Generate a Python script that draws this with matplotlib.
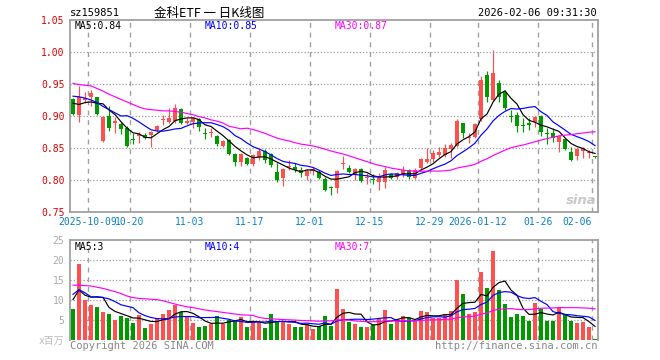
import numpy as np
import pandas as pd
import matplotlib
matplotlib.use('Agg')
import matplotlib.pyplot as plt

plt.rcParams['font.family'] = ['DejaVu Sans Mono', 'Noto Sans CJK SC']

# ---------------- data ----------------
holidays = pd.to_datetime(['2025-10-01', '2025-10-02', '2025-10-03', '2025-10-06',
                           '2025-10-07', '2025-10-08', '2026-01-01', '2026-01-02'])
dates = [d for d in pd.bdate_range('2025-09-26', '2026-02-06') if d not in holidays]
date_keys = [d.strftime('%Y-%m-%d') for d in dates]

open_ = [0.927, 0.902, 0.925, 0.929, 0.929, 0.8615, 0.900, 0.8885, 0.8875, 0.8818,
         0.8635, 0.8688, 0.8703, 0.8703, 0.8781, 0.8943, 0.8906, 0.8927, 0.9104, 0.8885,
         0.8911, 0.8948, 0.8724, 0.8729, 0.8682, 0.8536, 0.8625, 0.8401, 0.8286, 0.8349,
         0.825, 0.8365, 0.8458, 0.8406, 0.812, 0.8036, 0.8208, 0.8208, 0.8156, 0.8063,
         0.8141, 0.813, 0.8016, 0.7885, 0.788, 0.8245, 0.8193, 0.8078, 0.8167, 0.8036,
         0.8005, 0.7974, 0.7974, 0.8094, 0.8052, 0.8078, 0.8156, 0.8026, 0.8182, 0.8286,
         0.8323, 0.8391, 0.8391, 0.848, 0.8531, 0.8885, 0.8651, 0.8667, 0.8948, 0.9641,
         0.925, 0.951, 0.938, 0.8995, 0.9016, 0.8849, 0.8885, 0.8901, 0.900, 0.8734,
         0.8729, 0.8599, 0.8635, 0.8443, 0.8375, 0.8458, 0.8422, 0.838]
high = [0.928, 0.947, 0.938, 0.941, 0.930, 0.900, 0.915, 0.899, 0.891, 0.884,
        0.874, 0.8755, 0.8729, 0.8771, 0.8859, 0.9016, 0.912, 0.9188, 0.912, 0.8964,
        0.899, 0.8964, 0.8807, 0.8807, 0.8703, 0.8625, 0.8635, 0.8417, 0.8417, 0.8365,
        0.8406, 0.8479, 0.8479, 0.8427, 0.826, 0.8182, 0.8313, 0.826, 0.8198, 0.8167,
        0.8208, 0.8156, 0.8042, 0.7906, 0.8156, 0.8375, 0.8234, 0.8182, 0.8182, 0.8104,
        0.8094, 0.8104, 0.8198, 0.8115, 0.813, 0.8219, 0.8167, 0.8182, 0.8339, 0.8495,
        0.8469, 0.8521, 0.857, 0.8583, 0.8948, 0.8896, 0.8729, 0.8885, 0.9625, 0.9708,
        1.0031, 0.9563, 0.9406, 0.9094, 0.9068, 0.8964, 0.8964, 0.900, 0.9016, 0.8807,
        0.8807, 0.8703, 0.8651, 0.8521, 0.8495, 0.8521, 0.8469, 0.838]
low = [0.902, 0.891, 0.920, 0.915, 0.902, 0.860, 0.877, 0.874, 0.872, 0.852,
       0.857, 0.8583, 0.8635, 0.8521, 0.8755, 0.8859, 0.8885, 0.8896, 0.887, 0.887,
       0.8807, 0.8771, 0.8635, 0.8667, 0.8531, 0.851, 0.8391, 0.8219, 0.8219, 0.8234,
       0.8219, 0.8313, 0.826, 0.8208, 0.7974, 0.7906, 0.8156, 0.813, 0.8042, 0.800,
       0.8078, 0.801, 0.7833, 0.7766, 0.7802, 0.8167, 0.8104, 0.800, 0.7974, 0.7938,
       0.7938, 0.7844, 0.787, 0.801, 0.801, 0.8042, 0.801, 0.801, 0.8156, 0.826,
       0.8286, 0.8365, 0.836, 0.834, 0.8521, 0.8651, 0.8583, 0.8651, 0.8927, 0.9224,
       0.924, 0.9224, 0.9094, 0.8911, 0.8745, 0.8755, 0.8781, 0.8823, 0.8688, 0.8557,
       0.8599, 0.8443, 0.8469, 0.8302, 0.8313, 0.834, 0.834, 0.834]
close = [0.9031, 0.9292, 0.9286, 0.9354, 0.9031, 0.899, 0.881, 0.8927, 0.8797, 0.8531,
         0.8625, 0.8724, 0.8661, 0.8755, 0.8844, 0.8953, 0.8964, 0.912, 0.8885, 0.8927,
         0.8964, 0.8823, 0.8714, 0.8755, 0.8563, 0.8615, 0.8406, 0.8286, 0.8406, 0.825,
         0.8391, 0.8458, 0.8313, 0.8234, 0.800, 0.8167, 0.8219, 0.8156, 0.8104, 0.8141,
         0.8167, 0.8036, 0.7844, 0.788, 0.8141, 0.8255, 0.813, 0.8167, 0.799, 0.8047,
         0.7995, 0.8042, 0.8156, 0.8026, 0.8104, 0.8156, 0.8042, 0.8156, 0.8323, 0.8328,
         0.8417, 0.8432, 0.8495, 0.8547, 0.8927, 0.874, 0.8677, 0.887, 0.9563, 0.9302,
         0.9667, 0.9302, 0.913, 0.8984, 0.8849, 0.8839, 0.8859, 0.898, 0.8755, 0.8724,
         0.8651, 0.8688, 0.848, 0.8313, 0.8484, 0.8495, 0.8432, 0.8354]
volume = [7.8, 19.1, 10.1, 8.8, 8.25, 7.1, 6.5, 5.1, 6.1, 5.6,
          4.25, 6.25, 3.0, 4.1, 5.5, 6.5, 7.5, 8.8, 7.0, 5.75,
          4.25, 3.25, 3.5, 4.1, 6.0, 4.1, 5.0, 4.75, 5.75, 3.25,
          4.5, 4.5, 3.0, 6.5, 4.5, 4.75, 4.0, 3.25, 3.25, 4.0,
          2.75, 3.5, 6.0, 3.4, 12.8, 7.75, 4.5, 4.0, 3.25, 3.25,
          3.75, 5.25, 7.5, 4.0, 5.0, 6.0, 5.5, 5.0, 7.25, 7.0,
          5.5, 5.5, 6.5, 7.25, 15.0, 11.5, 6.5, 7.0, 17.0, 13.0,
          22.25, 12.5, 9.0, 5.75, 6.5, 6.0, 4.75, 9.25, 7.75, 4.75,
          4.75, 8.25, 6.25, 4.75, 4.25, 4.5, 3.25, 0.25]

# moving-average values before enough in-window history exists
price_ma5_lead = [0.920, 0.918, 0.921, 0.922]
price_ma10_lead = [0.931, 0.930, 0.928, 0.925, 0.921, 0.915, 0.910, 0.905, 0.900]
price_ma30_lead = [0.951, 0.949, 0.948, 0.947, 0.943, 0.939, 0.934, 0.930, 0.926, 0.922,
                   0.918, 0.914, 0.911, 0.910, 0.909, 0.908, 0.908, 0.907, 0.906, 0.904,
                   0.902, 0.899, 0.897, 0.894, 0.892, 0.889, 0.884, 0.882, 0.880]
vol_ma5_lead = [10.1, 12.5, 11.2, 10.7]
vol_ma10_lead = [11.4, 12.6, 11.8, 10.8, 10.7, 10.6, 10.3, 9.6, 8.8]
vol_ma30_lead = [13.7, 13.7, 13.6, 13.5, 13.2, 12.9, 12.5, 12.1, 11.6, 11.0,
                 10.6, 10.4, 10.3, 10.2, 10.1, 9.8, 9.4, 9.0, 8.6, 8.3,
                 8.1, 7.8, 7.5, 7.3, 7.1, 6.9, 6.7, 6.5, 6.3]

tick_dates = ['2025-10-09', '2025-10-20', '2025-11-03', '2025-11-17', '2025-12-01',
              '2025-12-15', '2025-12-29', '2026-01-12', '2026-01-26', '2026-02-06']
tick_labels = ['2025-10-09', '10-20', '11-03', '11-17', '12-01',
               '12-15', '12-29', '2026-01-12', '01-26', '02-06']

symbol = 'sz159851'
title = '金科ETF 一 日K线图'
stamp = '2026-02-06 09:31:30'

# ---------------- helpers ----------------
def ma(series, n, lead):
    s = pd.Series(series).rolling(n).mean().to_numpy()
    s[:len(lead)] = lead
    return s

def trunc(v, d):
    f = 10 ** d
    return np.floor(v * f + 1e-9) / f

RED = '#ff5050'
GREEN = '#009a00'
GRAY = '#a0a0a0'
BLUE_T = '#0a82c8'

n = len(close)
x = np.arange(n)
o = np.array(open_); h = np.array(high); l = np.array(low); c = np.array(close)
v = np.array(volume)
up = c >= o
cols = np.where(up, RED, GREEN)

pma5 = ma(c, 5, price_ma5_lead)
pma10 = ma(c, 10, price_ma10_lead)
pma30 = ma(c, 30, price_ma30_lead)
vma5 = ma(v, 5, vol_ma5_lead)
vma10 = ma(v, 10, vol_ma10_lead)
vma30 = ma(v, 30, vol_ma30_lead)

W, H = 660, 360
fig = plt.figure(figsize=(6.6, 3.6), dpi=100)
fig.patch.set_facecolor('white')

def fx(px):
    return px / W

def fy(py):
    return 1 - py / H

L, R = 70, 598
ax = fig.add_axes([fx(L), fy(212), fx(R - L), (212 - 20) / H])
axv = fig.add_axes([fx(L), fy(340), fx(R - L), (340 - 240) / H])

tick_idx = [date_keys.index(d) for d in tick_dates]

for a in (ax, axv):
    a.set_xlim(-0.5, n - 0.5)
    a.set_xticks([])
    for s in a.spines.values():
        s.set_color(GRAY)
        s.set_linewidth(1.3)
    for ti in tick_idx:
        a.axvline(ti - 0.5, color=GRAY, lw=1.0, ls=(0, (3.5, 3.5)), zorder=0)
    a.tick_params(axis='y', length=0, pad=4, labelsize=7)

# price panel
ax.set_ylim(0.75, 1.05)
yt = [0.75, 0.80, 0.85, 0.90, 0.95, 1.00, 1.05]
ax.set_yticks(yt)
ax.set_yticklabels(['%.2f' % t for t in yt], color='#e00000')
for t in yt[1:-1]:
    ax.axhline(t, color=GRAY, lw=0.9, ls=(0, (1, 1.6)), zorder=0)

ax.vlines(x, l, h, colors=cols, lw=0.85, zorder=2)
bh = np.maximum(np.abs(c - o), 0.0016)
ax.bar(x, bh, bottom=np.minimum(o, c), width=0.8, color=cols, lw=0, zorder=3)
ax.plot(x, pma5, color='black', lw=0.85, zorder=4)
ax.plot(x, pma10, color='#0000ff', lw=0.85, zorder=4)
ax.plot(x, pma30, color='#ff00ff', lw=0.85, zorder=4)

ax.text(fx(75), fy(26), 'MA5:%.2f' % trunc(pma5[-1], 2), transform=fig.transFigure,
        fontsize=7, color='black', va='center', ha='left')
ax.text(fx(205), fy(26), 'MA10:%.2f' % trunc(pma10[-1], 2), transform=fig.transFigure,
        fontsize=7, color='#0000ff', va='center', ha='left')
ax.text(fx(335), fy(26), 'MA30:%.2f' % trunc(pma30[-1], 2), transform=fig.transFigure,
        fontsize=7, color='#ff00ff', va='center', ha='left')

# x labels under price panel
for ti, lab in zip(tick_idx, tick_labels):
    if ti == n - 1:
        ax.text(ti - 0.5, 0.75 - 0.0155, lab, ha='right', va='center', fontsize=7,
                color=BLUE_T)
    else:
        ax.text(ti - 0.5, 0.75 - 0.0155, lab, ha='center', va='center', fontsize=7,
                color=BLUE_T)

# sina watermark
fig.text(fx(581), fy(200), 'sina', fontsize=9.5, color='#c8c8c8', style='italic',
         fontweight='bold', family='DejaVu Sans', ha='center', va='center')

# volume panel
axv.set_ylim(0, 25)
axv.spines['bottom'].set_visible(False)
vt = [5, 10, 15, 20, 25]
axv.set_yticks(vt)
axv.set_yticklabels([str(t) for t in vt], color='#aaaaaa')
for t in vt[:-1]:
    axv.axhline(t, color=GRAY, lw=0.9, ls=(0, (1, 1.6)), zorder=0)
axv.bar(x, v, width=0.8, color=cols, lw=0, zorder=2)
axv.plot(x, vma5, color='black', lw=0.85, zorder=4)
axv.plot(x, vma10, color='#0000ff', lw=0.85, zorder=4)
axv.plot(x, vma30, color='#ff00ff', lw=0.85, zorder=4)

fig.text(fx(75), fy(247), 'MA5:%d' % int(vma5[-1]), fontsize=7, color='black',
         va='center', ha='left')
fig.text(fx(205), fy(247), 'MA10:%d' % int(vma10[-1]), fontsize=7, color='#0000ff',
         va='center', ha='left')
fig.text(fx(335), fy(247), 'MA30:%d' % int(vma30[-1]), fontsize=7, color='#ff00ff',
         va='center', ha='left')
fig.text(fx(64), fy(341), 'x百万', fontsize=7, color='#bbbbbb', ha='right', va='center',
         family=['DejaVu Sans Mono', 'Noto Sans CJK SC'])

# header / footer
fig.text(fx(70), fy(13), symbol, fontsize=7.5, color='black', ha='left', va='center')
fig.text(fx(209), fy(13), title, fontsize=9, color='black', ha='center', va='center',
         family=['Noto Sans CJK SC', 'DejaVu Sans'])
fig.text(fx(597), fy(13), stamp, fontsize=7.5, color='black', ha='right', va='center')
fig.text(fx(70), fy(346), 'Copyright 2026 SINA.COM', fontsize=7.5, color='#888888',
         ha='left', va='center')
fig.text(fx(597), fy(346), 'http://finance.sina.com.cn', fontsize=7.5, color='#888888',
         ha='right', va='center')

fig.savefig('out.png', dpi=100, facecolor='white')
